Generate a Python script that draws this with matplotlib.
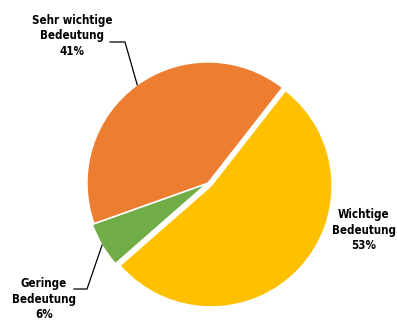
import numpy as np
import matplotlib
matplotlib.use("Agg")
import matplotlib.pyplot as plt

labels = ["Wichtige\nBedeutung", "Geringe\nBedeutung", "Sehr wichtige\nBedeutung"]
values = [53, 6, 41]
colors = ["#FFC000", "#70AD47", "#ED7D31"]
explode = [0.035, 0.015, 0.0]

W, H = 397, 323
cx, cy, R = 208, 183, 121  # pixel centre and radius

fig = plt.figure(figsize=(W / 100, H / 100), dpi=100)
ax = fig.add_axes([0, 0, 1, 1])
ax.axis("off")

wedges, _ = ax.pie(values, colors=colors, explode=explode, startangle=52,
                   counterclock=False, radius=1.0,
                   wedgeprops=dict(edgecolor="white", linewidth=1.0))
ax.set_xlim(-cx / R, (W - cx) / R)
ax.set_ylim(-(H - cy) / R, cy / R)
ax.set_aspect("equal")

def px(x, y):
    return ((x - cx) / R, (cy - y) / R)

font = dict(fontsize=8.3, fontweight="bold", family="DejaVu Sans",
            fontstretch="condensed",
            ha="center", va="center", linespacing=1.25)

texts = [f"{l}\n{v}%" for l, v in zip(labels, values)]
ax.text(*px(364, 230), texts[0], **font)
ax.text(*px(44, 299), texts[1], **font)
ax.text(*px(72, 36), texts[2], **font)

# leader lines
def leader(i, elbow, end):
    w = wedges[i]
    ang = np.deg2rad((w.theta1 + w.theta2) / 2)
    r = w.r
    c = w.center
    p0 = (c[0] + r * np.cos(ang), c[1] + r * np.sin(ang))
    e = px(*elbow)
    f = px(*end)
    ax.plot([p0[0], e[0], f[0]], [p0[1], e[1], f[1]], color="black", lw=0.9)

leader(2, (125, 42), (110, 42))
leader(1, (87, 289), (74, 289))

fig.savefig("out.png", dpi=100)
